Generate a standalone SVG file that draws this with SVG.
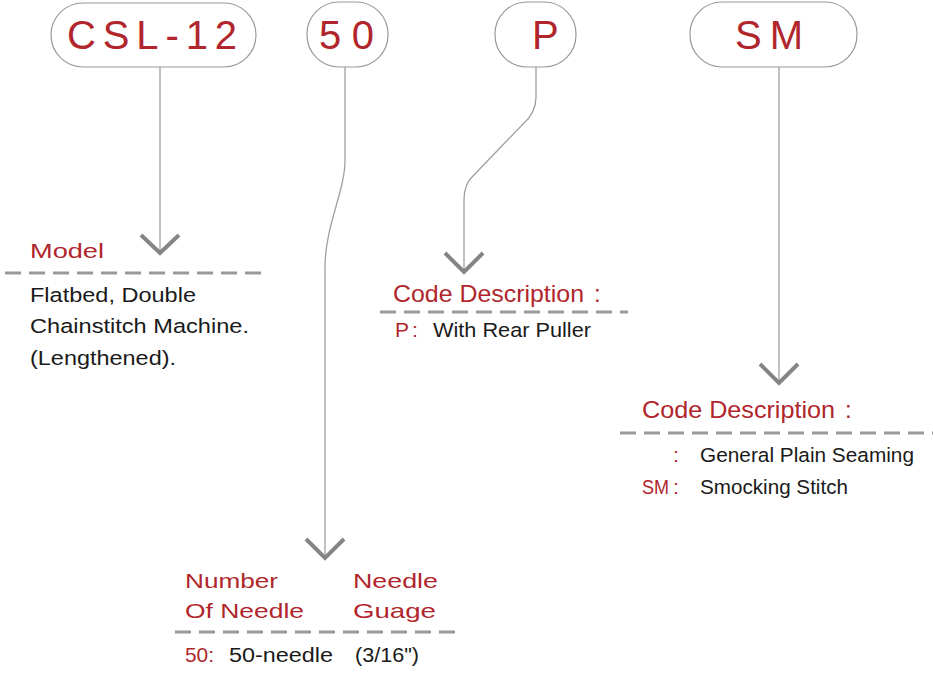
<svg xmlns="http://www.w3.org/2000/svg" width="933" height="677" viewBox="0 0 933 677">
<style>
.pill{fill:#fff;stroke:#9a9a9a;stroke-width:1.2}
.code{font-family:"Liberation Sans",Arial,sans-serif;font-size:40px;fill:#b0262c}
.line{fill:none;stroke:#a0a0a0;stroke-width:1.3}
.chev{fill:none;stroke:#858585;stroke-width:4}
.dash{stroke:#9a9a9a;stroke-width:3;stroke-dasharray:16 8}
.h{font-family:"Liberation Sans",Arial,sans-serif;font-size:24px;fill:#b0262c}
.r{font-family:"Liberation Sans",Arial,sans-serif;font-size:21px;fill:#b0262c}
.t{font-family:"Liberation Sans",Arial,sans-serif;font-size:20.5px;fill:#1a1a1a}
</style>
<rect width="933" height="677" fill="#fff"/>
<g id="connectors">
<path class="line" d="M160 67 V251"/>
<polyline class="chev" points="141,235 160,253 179,235"/>
<path class="line" d="M345 67 V160 C345 192 325 225 325 268 V556"/>
<polyline class="chev" points="306,539 325,558 344,539"/>
<path class="line" d="M536 67 V97 C536 110 530 118 523 124 L472 177 C466 183 464 190 464 200 V270"/>
<polyline class="chev" points="445,253 464,272 483,253"/>
<path class="line" d="M779 67 V381"/>
<polyline class="chev" points="760,364 779,383 798,364"/>
</g>
<g id="node-csl12">
<rect class="pill" x="51" y="3" width="205" height="64" rx="32"/>
<text class="code" x="67" y="49" textLength="170" lengthAdjust="spacing">CSL-12</text>
</g>
<g id="node-50">
<rect class="pill" x="307" y="2" width="81" height="65" rx="32"/>
<text class="code" x="319" y="49" textLength="55" lengthAdjust="spacing">50</text>
</g>
<g id="node-p">
<rect class="pill" x="495" y="2" width="81" height="65" rx="32"/>
<text class="code" x="532" y="49">P</text>
</g>
<g id="node-sm">
<rect class="pill" x="690" y="2" width="167" height="65" rx="32"/>
<text class="code" x="735" y="49" textLength="68" lengthAdjust="spacing">SM</text>
</g>
<g id="desc-model">
<text class="r" x="30" y="258" textLength="74" lengthAdjust="spacingAndGlyphs">Model</text>
<line class="dash" x1="5" y1="273" x2="264" y2="273"/>
<text class="t" x="30" y="302" textLength="166" lengthAdjust="spacingAndGlyphs">Flatbed, Double</text>
<text class="t" x="30" y="333" textLength="219" lengthAdjust="spacingAndGlyphs">Chainstitch Machine.</text>
<text class="t" x="30" y="365" textLength="146" lengthAdjust="spacingAndGlyphs">(Lengthened).</text>
</g>
<g id="desc-p">
<text class="h" x="393" y="302" textLength="191" lengthAdjust="spacingAndGlyphs">Code Description</text>
<text class="h" x="594" y="302">:</text>
<line class="dash" x1="380" y1="312" x2="628" y2="312"/>
<text class="r" x="395" y="337">P</text>
<text class="r" x="412" y="337">:</text>
<text class="t" x="433" y="337" textLength="158" lengthAdjust="spacingAndGlyphs">With Rear Puller</text>
</g>
<g id="desc-sm">
<text class="h" x="642" y="418" textLength="193" lengthAdjust="spacingAndGlyphs">Code Description</text>
<text class="h" x="845" y="418">:</text>
<line class="dash" x1="620" y1="433" x2="933" y2="433"/>
<text class="r" x="673" y="462">:</text>
<text class="t" x="700" y="462" textLength="214" lengthAdjust="spacingAndGlyphs">General Plain Seaming</text>
<text class="r" x="642" y="494" textLength="27" lengthAdjust="spacingAndGlyphs">SM</text>
<text class="r" x="673" y="494">:</text>
<text class="t" x="700" y="494" textLength="148" lengthAdjust="spacingAndGlyphs">Smocking Stitch</text>
</g>
<g id="desc-needle">
<text class="r" x="185" y="588" textLength="93" lengthAdjust="spacingAndGlyphs">Number</text>
<text class="r" x="185" y="618" textLength="119" lengthAdjust="spacingAndGlyphs">Of Needle</text>
<text class="r" x="353" y="588" textLength="85" lengthAdjust="spacingAndGlyphs">Needle</text>
<text class="r" x="353" y="618" textLength="83" lengthAdjust="spacingAndGlyphs">Guage</text>
<line class="dash" x1="175" y1="632" x2="458" y2="632"/>
<text class="r" x="185" y="662" textLength="29" lengthAdjust="spacingAndGlyphs">50:</text>
<text class="t" x="229" y="662" textLength="104" lengthAdjust="spacingAndGlyphs">50-needle</text>
<text class="t" x="355" y="662" textLength="64" lengthAdjust="spacingAndGlyphs">(3/16")</text>
</g>
</svg>
